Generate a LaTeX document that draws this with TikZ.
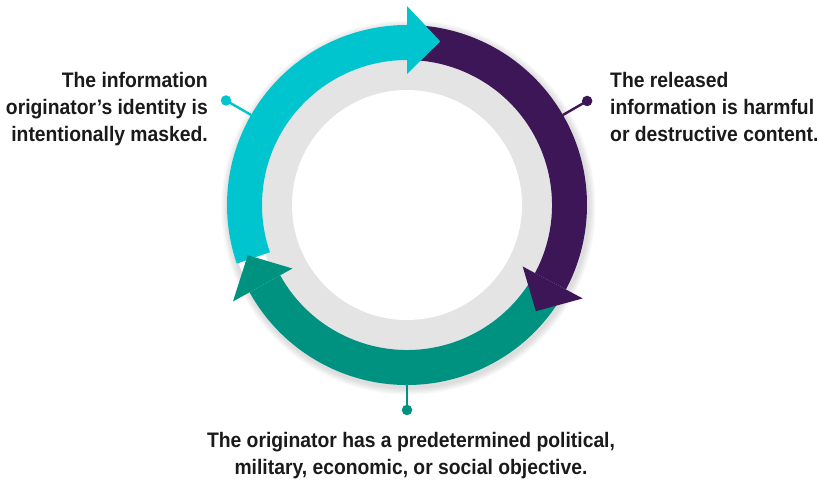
\documentclass[tikz,border=0pt]{standalone}
\usepackage{fontspec}
\setmainfont{Liberation Sans}[FakeStretch=0.92]
\usetikzlibrary{calc}
\definecolor{cyanA}{RGB}{0,196,206}
\definecolor{purpA}{RGB}{60,22,86}
\definecolor{tealA}{RGB}{0,146,128}
\definecolor{ringgray}{RGB}{228,228,228}
\definecolor{txt}{RGB}{26,26,26}
\newcommand\ringbody[3]{\fill[#1] ($(C)+(#2:180)$) arc[start angle=#2,end angle=#3,radius=180] -- ($(C)+(#3:145)$) arc[start angle=#3,end angle=#2,radius=145] -- cycle;}
\newcommand\ringhead[2]{\fill[#1] ($(C)+(#2:199)$) -- ($(C)+(#2-11.5:167)$) -- ($(C)+(#2:131)$) -- cycle;}
\tikzset{
  lbl/.style={text=txt,inner sep=0pt,font=\fontsize{21}{27}\selectfont\bfseries},
  dotnode/.style={circle,inner sep=0pt,minimum size=10.5pt},
  leader/.style={line width=2.4pt}
}
\begin{document}
\begin{tikzpicture}[x=1pt,y=1pt]
\useasboundingbox (0,0) rectangle (819,481);
\coordinate (C) at (407,276);
% soft shadow
\foreach \k in {1,...,6}{
  \fill[black,opacity=0.025] ($(C)+(1.5,-2.5)$) circle[radius=180+\k*1.2];
}
\fill[white] (C) circle[radius=178];
\fill[ringgray] (C) circle[radius=150];
\fill[white] (C) circle[radius=115];
% bodies
\ringbody{cyanA}{199}{90}
\ringbody{purpA}{88}{-28}
\ringbody{tealA}{-32}{-151}
% heads
\ringhead{cyanA}{90}
\ringhead{purpA}{-28}
\ringhead{tealA}{-151}
% leaders
\coordinate (l1) at ($(C)+(150:180)$);
\coordinate (l2) at ($(C)+(30:180)$);
\coordinate (l3) at ($(C)+(270:180)$);
\node[dotnode,fill=cyanA] (d1) at ($(C)+(150:209)$) {};
\node[dotnode,fill=purpA] (d2) at ($(C)+(30:208)$) {};
\node[dotnode,fill=tealA] (d3) at ($(C)+(270:205)$) {};
\draw[leader,cyanA] (l1) -- (d1.center);
\draw[leader,purpA] (l2) -- (d2.center);
\draw[leader,tealA] (l3) -- (d3.center);
% texts
\node[lbl,align=right,anchor=north east] (t1) at (208,409) {The information\\originator’s identity is\\intentionally masked.};
\node[lbl,align=left,anchor=north west] (t2) at (610,409) {The released\\information is harmful\\or destructive content.};
\node[lbl,align=center,anchor=north] (t3) at (411,49) {The originator has a predetermined political,\\military, economic, or social objective.};
\end{tikzpicture}
\end{document}
